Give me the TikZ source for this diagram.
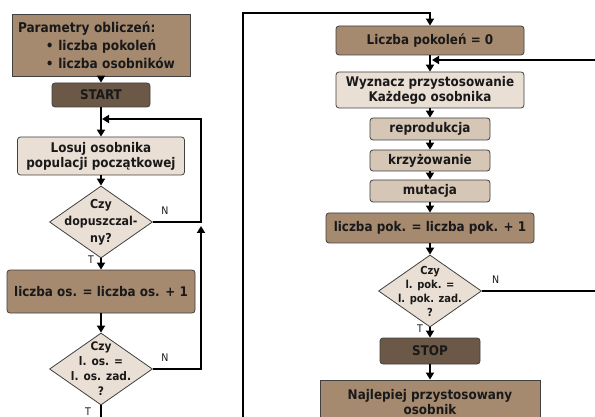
\documentclass[tikz,border=0pt]{standalone}
\usepackage{fontspec}
\setmainfont{DejaVu Sans Condensed}
\usepackage{tikz}
\usetikzlibrary{shapes.geometric,arrows.meta}
\usepackage{xcolor}
\definecolor{midbrown}{RGB}{166,138,112}
\definecolor{darkbrown}{RGB}{107,88,70}
\definecolor{lightbeige}{RGB}{234,223,212}
\definecolor{tanbox}{RGB}{214,198,182}
\begin{document}
\begin{tikzpicture}[x=1pt,y=-1pt,
  every node/.style={font=\bfseries\fontsize{13.3}{15}\selectfont,text=black!90},
  proc/.style={draw=black!75,line width=0.8pt,rounded corners=3pt,inner sep=0pt,align=center},
  cond/.style={diamond,draw=black!75,line width=0.8pt,fill=lightbeige,inner sep=0pt,minimum width=103pt,minimum height=72pt},
  condtext/.style={align=center,font=\bfseries\fontsize{12.3}{16}\selectfont},
  flow/.style={line width=1.8pt,-{Triangle[width=8pt,length=7pt]}},
  yn/.style={font=\mdseries\fontsize{10.5}{10.5}\selectfont}]
\clip (0,0) rectangle (595,417);
\fill[white] (0,0) rectangle (595,417);
% lewa kolumna
\node[proc,rounded corners=0pt,fill=midbrown,minimum width=178pt,minimum height=62pt,
  inner xsep=6pt,text width=166pt,align=left,font=\bfseries\fontsize{13.5}{18}\selectfont] (param) at (101,45)
  {Parametry obliczeń:\\\hspace*{28pt}\textbullet\ liczba pokoleń\\\hspace*{28pt}\textbullet\ liczba osobników};
\node[proc,fill=darkbrown,minimum width=98pt,minimum height=24pt] (start) at (101,95) {START};
\node[proc,fill=lightbeige,minimum width=167pt,minimum height=38pt] (losuj) at (101,156) {Losuj osobnika\\populacji początkowej};
\node[cond,label={[condtext,font=\bfseries\fontsize{12.3}{17}\selectfont]center:Czy\\dopuszczal-\\ny?}] (d1) at (101,222) {};
\node[proc,fill=midbrown,minimum width=188pt,minimum height=43pt] (incos) at (101,291.5) {liczba os. = liczba os. + 1};
\node[cond,label={[condtext,font=\bfseries\fontsize{11.8}{15}\selectfont]center:Czy\\l. os. =\\l. os. zad.\\?}] (d2) at (101,369) {};
\coordinate (jA) at (101,119);
\coordinate (jB) at (201,226);
\coordinate (jump1) at (101,440);
\coordinate (topL) at (243,13);
% prawa kolumna
\node[proc,fill=midbrown,minimum width=188pt,minimum height=29pt] (lp0) at (430,40.5) {Liczba pokoleń = 0};
\node[proc,fill=lightbeige,minimum width=188pt,minimum height=36pt] (fit) at (430,90) {Wyznacz przystosowanie\\Każdego osobnika};
\node[proc,fill=tanbox,minimum width=120pt,minimum height=22pt] (repr) at (430,129) {reprodukcja};
\node[proc,fill=tanbox,minimum width=120pt,minimum height=21pt] (cross) at (430,160.5) {krzyżowanie};
\node[proc,fill=tanbox,minimum width=120pt,minimum height=22pt] (mut) at (430,191) {mutacja};
\node[proc,fill=midbrown,minimum width=208pt,minimum height=30pt] (incpok) at (430,228) {liczba pok. = liczba pok. + 1};
\node[cond,label={[condtext,font=\bfseries\fontsize{11}{14}\selectfont]center:Czy\\l. pok. =\\l. pok. zad.\\?}] (d3) at (430,291) {};
\node[proc,fill=darkbrown,minimum width=100pt,minimum height=26pt] (stop) at (430,351) {STOP};
\node[proc,rounded corners=0pt,fill=midbrown,minimum width=220pt,minimum height=44pt] (best) at (430,402) {Najlepiej przystosowany\\osobnik};
\coordinate (jC) at (430,60);
\coordinate (offR) at (620,291);
% polaczenia
\draw[flow] (param) -- (start);
\draw[flow] (start) -- (losuj);
\draw[flow] (losuj) -- (d1);
\draw[flow] (d1) -- (incos) node[pos=0.1,left=3pt,yn] {T};
\draw[flow] (incos) -- (d2);
\draw[flow,shorten >=1pt] (d1.east) -- node[pos=0.25,above=3pt,yn] {N} (d1.east -| jB) |- (jA);
\draw[flow] (d2.east) -- node[pos=0.25,above=3pt,yn] {N} (d2.east -| jB) -- (jB);
\draw[flow] (d2.south) -- (jump1) -| (topL) -| (lp0.north);
\node[yn] at (88,412) {T};
\draw[flow] (lp0) -- (fit);
\draw[flow] (fit) -- (repr);
\draw[flow] (repr) -- (cross);
\draw[flow] (cross) -- (mut);
\draw[flow] (mut) -- (incpok);
\draw[flow] (incpok) -- (d3);
\draw[flow] (d3) -- (stop) node[pos=0.15,left=3pt,yn] {T};
\draw[flow] (stop) -- (best);
\draw[flow,shorten >=2pt] (d3.east) -- node[pos=0.1,above=3pt,yn] {N} (offR) |- (jC);
\end{tikzpicture}
\end{document}
